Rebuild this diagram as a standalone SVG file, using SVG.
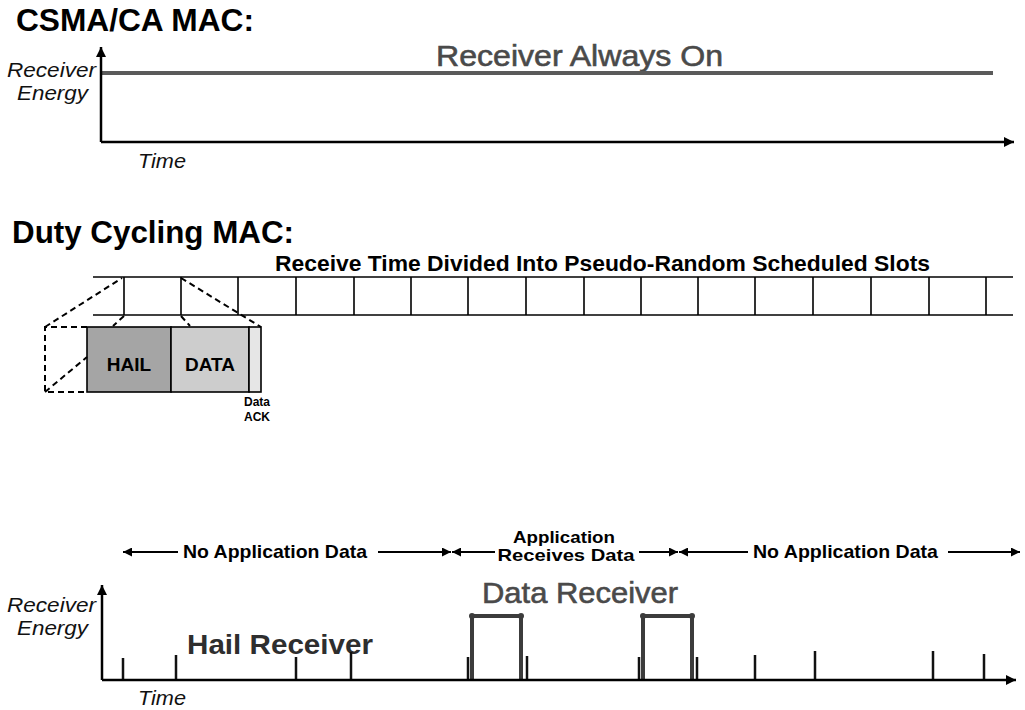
<svg xmlns="http://www.w3.org/2000/svg" width="1025" height="710" viewBox="0 0 1025 710">
<style>
text{font-family:"Liberation Sans",Arial,sans-serif;}
.title{font-size:31px;font-weight:bold;fill:#000;}
.ax{font-size:21px;font-style:italic;fill:#111;}
.big{font-size:30px;fill:#4a4a4a;stroke:#4a4a4a;stroke-width:0.6;}
.lbl{font-size:19px;font-weight:bold;fill:#000;}
.lbl2{font-size:17px;font-weight:bold;fill:#000;}
.small{font-size:12px;font-weight:bold;fill:#000;}
.axis{stroke:#000;stroke-width:2.5;fill:none;}
.grid{stroke:#000;stroke-width:1.6;fill:none;}
.dash{stroke:#000;stroke-width:2;stroke-dasharray:6,4;fill:none;}
.tick{stroke:#111;stroke-width:2.5;}
.pulse{stroke:#3c3c3c;stroke-width:4;fill:none;}
.arr{stroke:#000;stroke-width:2.2;}
</style>
<defs>
<marker id="ah" viewBox="0 0 10 10" refX="10" refY="5" markerWidth="11" markerHeight="9" markerUnits="userSpaceOnUse" orient="auto"><path d="M0,0 L10,5 L0,10 z" fill="#000"/></marker>
<marker id="ax" viewBox="0 0 10 10" refX="10" refY="5" markerWidth="12" markerHeight="10" markerUnits="userSpaceOnUse" orient="auto"><path d="M0,0 L10,5 L0,10 z" fill="#000"/></marker>
</defs>

<g id="csma">
<text class="title" x="16" y="31" textLength="238" lengthAdjust="spacingAndGlyphs">CSMA/CA MAC:</text>
<text class="ax" x="7" y="77" textLength="89" lengthAdjust="spacingAndGlyphs">Receiver</text>
<text class="ax" x="17" y="100" textLength="71" lengthAdjust="spacingAndGlyphs">Energy</text>
<text class="ax" x="138" y="168" textLength="48" lengthAdjust="spacingAndGlyphs">Time</text>
<text class="big" x="436" y="66" textLength="287" lengthAdjust="spacingAndGlyphs">Receiver Always On</text>
<line x1="101" y1="73" x2="993" y2="73" stroke="#5a5a5a" stroke-width="4"/>
</g>

<g id="duty">
<text class="title" x="12" y="243" textLength="282" lengthAdjust="spacingAndGlyphs">Duty Cycling MAC:</text>
<text x="275" y="271" style="font-size:22px;font-weight:bold" textLength="655" lengthAdjust="spacingAndGlyphs">Receive Time Divided Into Pseudo-Random Scheduled Slots</text>
</g>

<g id="slots">
<line class="grid" x1="93" y1="277" x2="1013" y2="277"/>
<line class="grid" x1="93" y1="315" x2="1013" y2="315"/>
<path class="grid" d="M124,277V315M181,277V315M238,277V315M296,277V315M354,277V315M411,277V315M468,277V315M526,277V315M584,277V315M641,277V315M698,277V315M755,277V315M813,277V315M871,277V315M929,277V315M986,277V315"/>
</g>

<g id="packet">
<rect x="87" y="327" width="84" height="65" fill="#a5a5a5" stroke="#000" stroke-width="1.6"/>
<rect x="171" y="327" width="78" height="65" fill="#cdcdcd" stroke="#000" stroke-width="1.6"/>
<rect x="249" y="327" width="12" height="65" fill="#e6e6e6" stroke="#000" stroke-width="1.6"/>
<text class="lbl" x="129" y="371" text-anchor="middle">HAIL</text>
<text class="lbl" x="210" y="371" text-anchor="middle">DATA</text>
<text class="small" x="257" y="406" text-anchor="middle">Data</text>
<text class="small" x="257" y="421" text-anchor="middle">ACK</text>
</g>

<g id="zoomlines">
<path class="dash" d="M87,327H45V392H87M45,327L122,278M45,392L87,357M181,278L261,327M124,316L113,326M181,316L190,326"/>
</g>

<g id="bottom-labels">
<line class="arr" x1="178" y1="552" x2="123" y2="552" marker-end="url(#ah)"/>
<text class="lbl" x="183" y="558" textLength="184" lengthAdjust="spacingAndGlyphs">No Application Data</text>
<line class="arr" x1="378" y1="552" x2="451" y2="552" marker-end="url(#ah)"/>
<line class="arr" x1="495" y1="552" x2="452" y2="552" marker-end="url(#ah)"/>
<text class="lbl2" x="564" y="543" text-anchor="middle" textLength="102" lengthAdjust="spacingAndGlyphs">Application</text>
<text class="lbl2" x="566" y="561" text-anchor="middle" textLength="137" lengthAdjust="spacingAndGlyphs">Receives Data</text>
<line class="arr" x1="639" y1="552" x2="678" y2="552" marker-end="url(#ah)"/>
<line class="arr" x1="748" y1="552" x2="679" y2="552" marker-end="url(#ah)"/>
<text class="lbl" x="753" y="558" textLength="185" lengthAdjust="spacingAndGlyphs">No Application Data</text>
<line class="arr" x1="948" y1="552" x2="1020" y2="552" marker-end="url(#ah)"/>
</g>

<g id="dutychart">
<text class="ax" x="7" y="612" textLength="89" lengthAdjust="spacingAndGlyphs">Receiver</text>
<text class="ax" x="17" y="635" textLength="71" lengthAdjust="spacingAndGlyphs">Energy</text>
<text class="ax" x="138" y="705" textLength="48" lengthAdjust="spacingAndGlyphs">Time</text>
<text x="187" y="654" style="font-size:28px;font-weight:bold;fill:#2e2e2e" textLength="186" lengthAdjust="spacingAndGlyphs">Hail Receiver</text>
<text class="big" x="482" y="603" textLength="196" lengthAdjust="spacingAndGlyphs">Data Receiver</text>
<path class="tick" d="M123,680V658M176,680V655M296,680V657M351,680V652M755,680V655M815,680V651M933,680V651M984,680V654"/>
<path class="tick" d="M527,680V656" stroke-width="3"/>
<path class="tick" d="M468,680V657M639,680V657M697,680V657" stroke-width="4.5"/>
<path class="pulse" d="M472,680V616H521V680M643,680V616H692V680"/>
<g fill="#3c3c3c"><circle cx="472" cy="616" r="3"/><circle cx="521" cy="616" r="3"/><circle cx="643" cy="616" r="3"/><circle cx="692" cy="616" r="3"/></g>
</g>

<g id="connectors">
<line class="axis" x1="101" y1="142" x2="101" y2="47" marker-end="url(#ax)"/>
<line class="axis" x1="101" y1="142" x2="1014" y2="142" marker-end="url(#ax)"/>
<line class="axis" x1="102" y1="680" x2="102" y2="585" marker-end="url(#ax)"/>
<line class="axis" x1="102" y1="680" x2="1016" y2="680" marker-end="url(#ax)"/>
</g>
</svg>
